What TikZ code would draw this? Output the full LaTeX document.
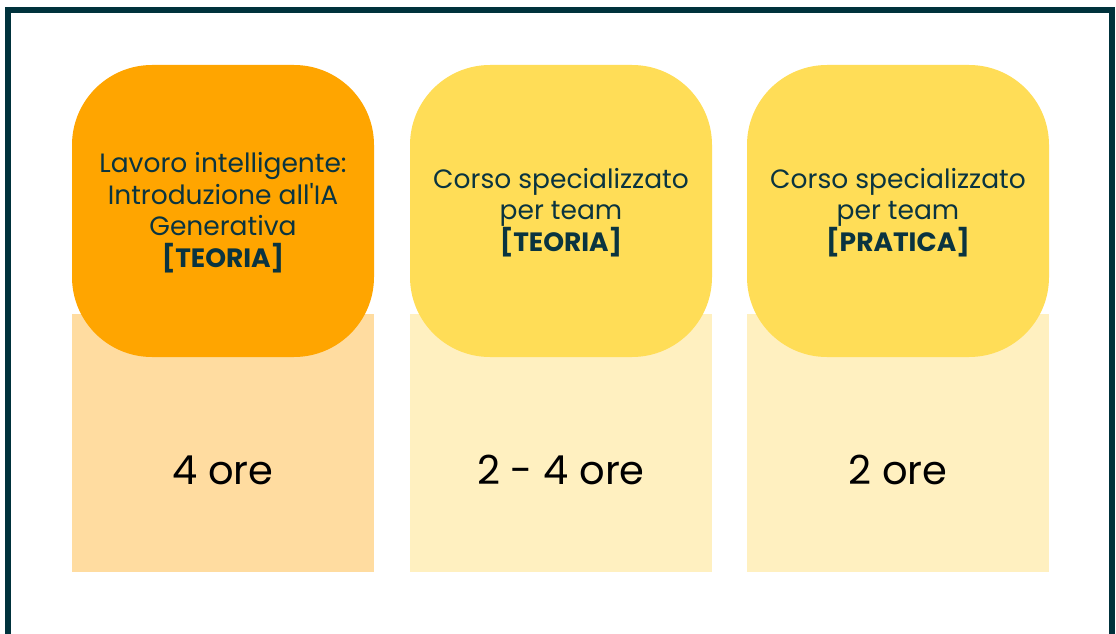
\documentclass[tikz,border=0pt]{standalone}
\usepackage{fontspec}
\newfontfamily\pop{Poppins}
\definecolor{frame}{HTML}{00323C}
\definecolor{ink}{HTML}{0A3440}
\definecolor{orangeA}{HTML}{FFA500}
\definecolor{orangeB}{HTML}{FFDCA0}
\definecolor{yellowA}{HTML}{FFDD57}
\definecolor{yellowB}{HTML}{FFF0C0}
\begin{document}
\begin{tikzpicture}[x=1pt,y=-1pt,
  head/.style={fill=#1, rounded corners=80pt, draw=none},
  title/.style={text=ink, align=center, font=\pop\fontsize{26.5}{31.5}\selectfont},
  hours/.style={text=black, font=\pop\fontsize{40}{44}\selectfont}]
\useasboundingbox (0,0) rectangle (1116,634);
\fill[white] (0,0) rectangle (1116,634);
\draw[frame, line width=6pt] (8,700) -- (8,10) -- (1112,10) -- (1112,700);
% column 1
\fill[orangeB] (72,314) rectangle (374,572);
\path[head=orangeA] (72,65) rectangle (374,357);
% column 2
\fill[yellowB] (410,314) rectangle (712,572);
\path[head=yellowA] (410,65) rectangle (712,357);
% column 3
\fill[yellowB] (747,314) rectangle (1049,572);
\path[head=yellowA] (747,65) rectangle (1049,357);
\node[title] (t1) at (223,212.5) {Lavoro intelligente:\\Introduzione all'IA\\Generativa\\\textbf{[TEORIA]}};
\node[title] (t2) at (561,212.5) {Corso specializzato\\per team\\\textbf{[TEORIA]}};
\node[title] (t3) at (898,212.5) {Corso specializzato\\per team\\\textbf{[PRATICA]}};
\node[hours] (h1) at (223,470) {4 ore};
\node[hours] (h2) at (561,470) {2 - 4 ore};
\node[hours] (h3) at (898,470) {2 ore};
\end{tikzpicture}
\end{document}
